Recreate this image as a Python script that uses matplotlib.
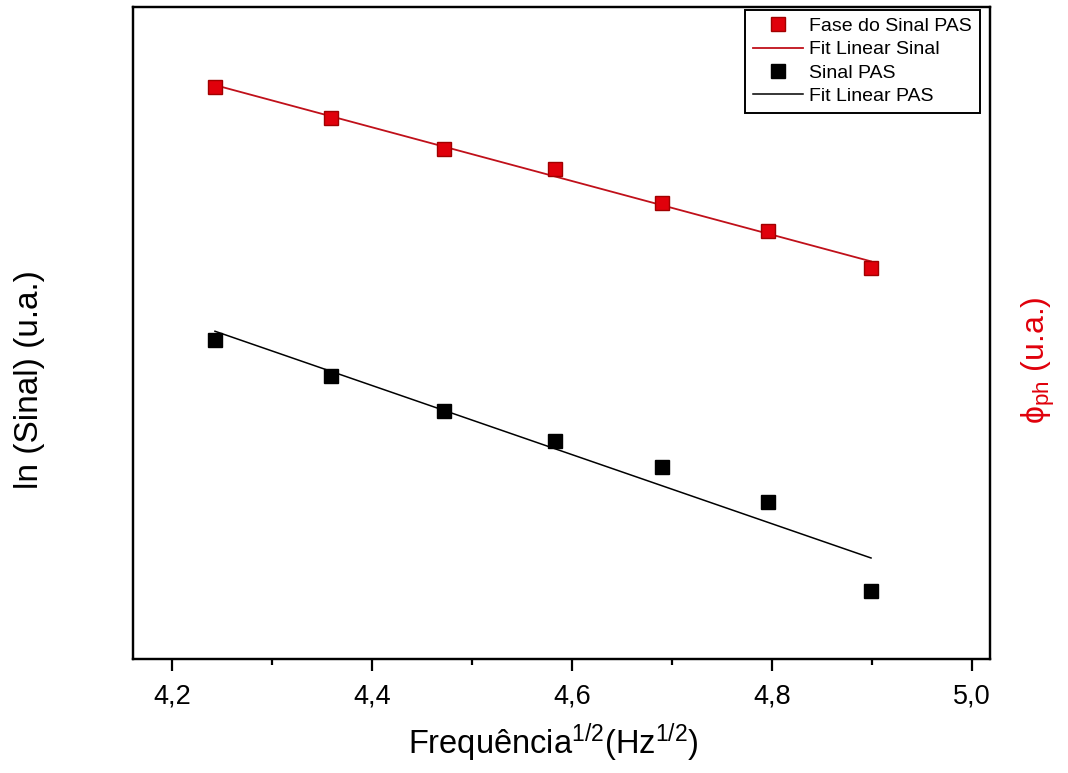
import numpy as np
import matplotlib
matplotlib.use('Agg')
import matplotlib.pyplot as plt
from matplotlib.ticker import FuncFormatter, MultipleLocator

plt.rcParams['font.family'] = ['Liberation Sans', 'DejaVu Sans']
plt.rcParams['mathtext.fontset'] = 'custom'
plt.rcParams['mathtext.rm'] = 'Liberation Sans'
plt.rcParams['mathtext.it'] = 'Liberation Sans'

# Square root of modulation frequency (Hz^1/2)
freq_sqrt = [4.243, 4.359, 4.472, 4.583, 4.690, 4.796, 4.899]

# Phase of the PAS signal (u.a.)
fase = [5.72, 5.41, 5.10, 4.90, 4.56, 4.28, 3.91]

# ln of the PAS signal amplitude (u.a.)
sinal = [3.19, 2.83, 2.48, 2.18, 1.92, 1.57, 0.68]

RED = '#e0000b'

fig = plt.figure(figsize = (10.68, 7.73), dpi = 100)
ax = fig.add_axes([0.1245, 0.1475, 0.8025, 0.8435])
ax2 = ax.twinx()

x = np.array(freq_sqrt)

# linear fits over the measured range
p_fase = np.polyfit(x, fase, 1)
p_sinal = np.polyfit(x, sinal, 1)

h1, = ax2.plot(x, fase, 's', color = RED, markeredgecolor = '#a00000',
               markersize = 9.5, label = 'Fase do Sinal PAS', zorder = 3)
h2, = ax2.plot(x, np.polyval(p_fase, x), '-', color = '#c0101a', lw = 1.3,
               label = 'Fit Linear Sinal', zorder = 2)
h3, = ax.plot(x, sinal, 's', color = 'black', markersize = 9.5,
              label = 'Sinal PAS', zorder = 3)
h4, = ax.plot(x, np.polyval(p_sinal, x), '-', color = 'black', lw = 1.1,
              label = 'Fit Linear PAS', zorder = 2)

ax.set_xlim(4.161, 5.018)
ax.set_ylim(0, 6.52)
ax2.set_ylim(0, 6.52)

ax.xaxis.set_major_locator(MultipleLocator(0.2))
ax.xaxis.set_minor_locator(MultipleLocator(0.1))
ax.xaxis.set_major_formatter(FuncFormatter(lambda v, pos: ('%.1f' % v).replace('.', ',')))
ax.tick_params(axis = 'x', which = 'major', direction = 'out', length = 8.5, width = 1.6,
               labelsize = 19.5, pad = 9)
ax.tick_params(axis = 'x', which = 'minor', direction = 'out', length = 4.5, width = 1.6)
ax.set_yticks([])
ax2.set_yticks([])

for a in (ax, ax2):
    for s in a.spines.values():
        s.set_linewidth(1.6)

ax.set_xlabel('Frequência$^{1/2}$(Hz$^{1/2}$)', fontsize = 23.5)
ax.xaxis.set_label_coords(0.49, -0.096)
ax.set_ylabel('ln (Sinal) (u.a.)', fontsize = 24)
ax.yaxis.set_label_coords(-0.103, 0.428)
ax2.set_ylabel(r'$\mathregular{\phi_{ph}}$ (u.a.)', fontsize = 23, color = RED)
ax2.yaxis.set_label_coords(1.035, 0.459)

leg = ax.legend(handles = [h1, h2, h3, h4], loc = 'upper right',
                bbox_to_anchor = (0.988, 0.996), borderaxespad = 0,
                fontsize = 14, fancybox = False, edgecolor = 'black',
                framealpha = 1, handlelength = 2.6, handletextpad = 0.3,
                labelspacing = 0.3, borderpad = 0.4)
leg.get_frame().set_linewidth(1.4)

fig.savefig('out.png', dpi = 100)
